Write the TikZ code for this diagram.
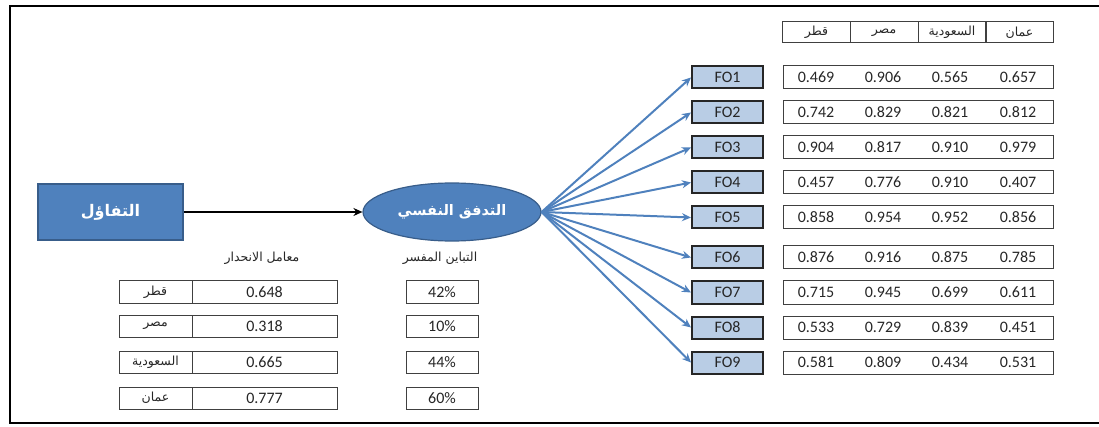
\documentclass[tikz,border=0pt]{standalone}
\usepackage{fontspec}
\setmainfont{Carlito}
\newfontfamily\arabicfont[Script=Arabic]{DejaVu Sans}
\TeXXeTstate=1
\usetikzlibrary{arrows.meta,shapes.geometric}
\definecolor{mainblue}{HTML}{4F81BD}
\definecolor{darkblue}{HTML}{385D8A}
\definecolor{lightblue}{HTML}{B9CDE5}
\definecolor{cellline}{HTML}{404040}
\newcommand{\artext}[1]{{\arabicfont\beginR #1\endR}}
\newcommand{\arcell}[1]{\raisebox{-2pt}{\arabicfont\beginR #1\endR}}
\begin{document}
\begin{tikzpicture}[x=1pt,y=-1pt,
  numfont/.style={font=\fontsize{16}{18}\selectfont, text=black!85},
  cell/.style={draw=cellline, line width=1pt, inner sep=0pt},
  fobox/.style={draw=black!85, line width=2pt, fill=lightblue, minimum width=71, minimum height=22, inner sep=0pt, font=\fontsize{16}{18}\selectfont, text=black!85},
  bluearrow/.style={draw=mainblue, line width=2pt, -{Stealth[length=9pt,width=8pt]}},
  smallar/.style={font=\fontsize{12.5}{14}\selectfont, text=black!85}]
\useasboundingbox (0,0) rectangle (1099,427);
\draw[line width=2.8pt] (1103,6) -- (10,6) -- (10,423) -- (1103,423);

% main nodes
\node[draw=darkblue, line width=1.2pt, fill=mainblue, minimum width=145, minimum height=56, inner sep=0pt, text=white, font=\fontsize{16}{18}\selectfont\bfseries] (opt) at (110.5,212) {\artext{التفاؤل}};
\node[ellipse, draw=darkblue, line width=1.2pt, fill=mainblue, minimum width=178, minimum height=58, inner sep=0pt, text=white, font=\fontsize{14.5}{18}\selectfont\bfseries] (flow) at (452,212) {\artext{التدفق النفسي}};
\draw[line width=2pt, -{Stealth[length=9pt,width=8pt]}] (opt.east) -- (flow.west);

% header labels under nodes
\node[smallar] (lblreg) at (262,258) {\artext{معامل الانحدار}};
\node[smallar] (lblvar) at (440,258) {\artext{التباين المفسر}};

% left tables
\foreach \k/\yy/\nm/\val/\pc in {1/281/قطر/0.648/42\%, 2/315/مصر/0.318/10\%, 3/351/السعودية/0.665/44\%, 4/387/عمان/0.777/60\%}{
  \node[cell, minimum width=73, minimum height=22, smallar] (cn\k) at (155.5,\yy+11) {\arcell{\nm}};
  \node[cell, minimum width=145, minimum height=22, numfont] (cv\k) at (264.5,\yy+11) {\val};
  \node[cell, minimum width=72, minimum height=22, numfont] (cp\k) at (442,\yy+11) {\pc};
}

% top right header
\foreach \k/\cx/\nm in {1/816.5/قطر, 2/884/مصر, 3/952/السعودية, 4/1019.5/عمان}{
  \node[cell, minimum width=68, minimum height=21, smallar] (h\k) at (\cx,32.5) {\arcell{\nm}};
}

% FO boxes and values
\foreach \i/\yy/\a/\b/\c/\d in {1/66/0.469/0.906/0.565/0.657, 2/101/0.742/0.829/0.821/0.812, 3/136/0.904/0.817/0.910/0.979, 4/171/0.457/0.776/0.910/0.407, 5/206/0.858/0.954/0.952/0.856, 6/246/0.876/0.916/0.875/0.785, 7/281/0.715/0.945/0.699/0.611, 8/316/0.533/0.729/0.839/0.451, 9/351/0.581/0.809/0.434/0.531}{
  \node[fobox] (fo\i) at (727.5,\yy+11.5) {FO\i};
  \node[cell, minimum width=270, minimum height=23] (row\i) at (918,\yy+11.5) {};
  \node[numfont] (ra\i) at (816,\yy+11.5) {\a};
  \node[numfont] (rb\i) at (883,\yy+11.5) {\b};
  \node[numfont] (rc\i) at (950,\yy+11.5) {\c};
  \node[numfont] (rd\i) at (1018,\yy+11.5) {\d};
  \draw[bluearrow] (flow.east) -- (fo\i.west);
}
\end{tikzpicture}
\end{document}
